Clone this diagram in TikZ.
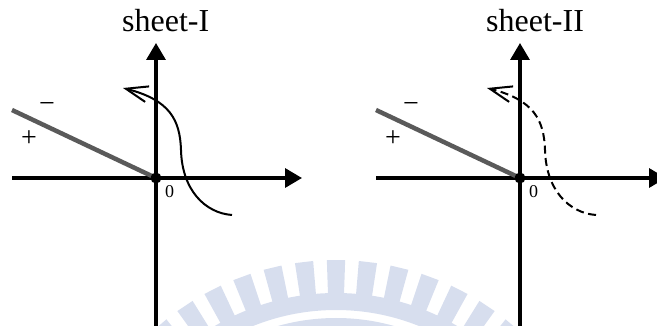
\documentclass[tikz,border=0pt]{standalone}
\usepackage{fontspec}
\setmainfont{Liberation Serif}
\usetikzlibrary{arrows.meta}

\definecolor{cutgray}{RGB}{90,90,90}
\definecolor{wmark}{RGB}{215,222,238}

\begin{document}
\begin{tikzpicture}[
    x=1pt, y=-1pt,
    axis/.style={line width=3.4pt, -{Triangle[length=17pt,width=19pt]}},
    branchcut/.style={line width=4.5pt, cutgray},
    traj/.style={line width=2pt, -{Straight Barb[length=22pt,width=16pt]}},
    title/.style={anchor=base west, inner sep=0pt, font=\fontsize{32}{38}\selectfont},
    sign/.style={inner sep=0pt, font=\fontsize{28}{32}\selectfont},
    zero/.style={anchor=base west, inner sep=0pt, font=\fontsize{18}{22}\selectfont},
  ]
    \clip (0,0) rectangle (657,326);

    % watermark in the background
    \begin{scope}[shift={(336,532)}, wmark]
      \fill[even odd rule] (0,0) circle[radius=239] (0,0) circle[radius=222];
      \fill[even odd rule] (0,0) circle[radius=214] (0,0) circle[radius=150];
      \foreach \k in {-8,...,8}
        \fill ({270+6.75*\k-1.93}:238) -- ({270+6.75*\k-1.93}:272)
          -- ({270+6.75*\k+1.93}:272) -- ({270+6.75*\k+1.93}:238) -- cycle;
    \end{scope}

    % sheet I
    \begin{scope}
      \coordinate (o1) at (156,178);
      \draw[axis] (12,178) -- (302,178);
      \draw[axis] (156,340) -- (156,43);
      \draw[branchcut] (12,110) -- (o1);
      \draw[traj] (232,215) .. controls (205,213) and (182,190) .. (181,150)
        .. controls (180,120) and (170,100) .. (123,88);
      \fill (o1) circle[radius=5.5];
      \node[title] (t1) at (122,32) {sheet-I};
      \node[sign] (m1) at (47,108) {−};
      \node[sign] (p1) at (29,139) {+};
      \node[zero] (z1) at (165,198) {0};
    \end{scope}

    % sheet II
    \begin{scope}[shift={(364,0)}]
      \coordinate (o2) at (156,178);
      \draw[axis] (12,178) -- (302,178);
      \draw[axis] (156,340) -- (156,43);
      \draw[branchcut] (12,110) -- (o2);
      \draw[traj, dash pattern=on 8pt off 4.5pt] (232,215) .. controls (205,213) and (182,190) .. (181,150)
        .. controls (180,120) and (170,100) .. (123,88);
      \fill (o2) circle[radius=5.5];
      \node[title] (t2) at (122,32) {sheet-II};
      \node[sign] (m2) at (47,108) {−};
      \node[sign] (p2) at (29,139) {+};
      \node[zero] (z2) at (165,198) {0};
    \end{scope}
  \end{tikzpicture}
\end{document}
